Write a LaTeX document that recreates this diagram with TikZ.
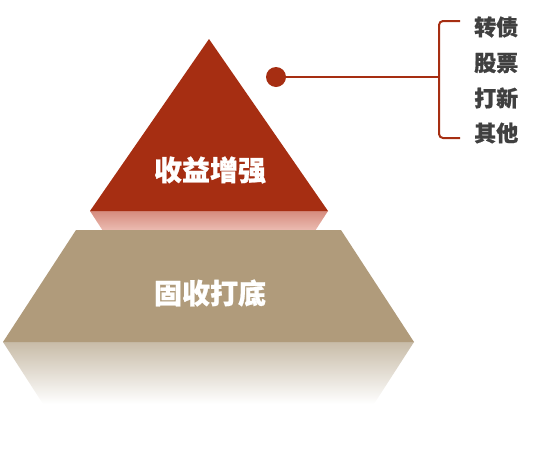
\documentclass[tikz,border=0pt]{standalone}
\usepackage{fontspec}
\newfontfamily\cjk{Noto Sans CJK SC}[BoldFeatures={FakeBold=0.8}]
\definecolor{topred}{RGB}{166,46,18}
\definecolor{basetan}{RGB}{176,155,123}
\definecolor{pinkA}{RGB}{214,140,126}
\definecolor{pinkB}{RGB}{236,190,180}
\definecolor{tanA}{RGB}{200,188,168}
\definecolor{labelgray}{RGB}{64,64,64}
\tikzset{
  bigtext/.style={text=white, font=\cjk\bfseries\fontsize{28}{30}\selectfont, inner sep=0pt},
  sidetext/.style={text=labelgray, font=\cjk\bfseries\fontsize{22}{24}\selectfont, inner sep=0pt, anchor=west},
  leader/.style={draw=topred, line width=2pt},
}
\begin{document}
\begin{tikzpicture}[x=1pt,y=-1pt]
\useasboundingbox (0,0) rectangle (551,456);
% reflection of the top triangle
\shade[top color=pinkA, bottom color=pinkB] (90,211) -- (328,211) -- (315,231) -- (103,231) -- cycle;
% top triangle
\fill[topred] (209,39) -- (328,211) -- (90,211) -- cycle;
% reflection of the base trapezoid
\shade[top color=tanA, bottom color=white] (3,342) -- (414,342) -- (374,404) -- (43,404) -- cycle;
% base trapezoid
\fill[basetan] (76,230) -- (341,230) -- (414,342) -- (3,342) -- cycle;
% labels
\node[bigtext] (gain) at (210,170) {收益增强};
\node[bigtext] (floor) at (210,293) {固收打底};
% dot and leader
\node[circle, fill=topred, minimum size=20pt, inner sep=0pt] (dot) at (276,77) {};
\coordinate (joint) at (439,77);
\coordinate (btop) at (460,21);
\coordinate (bbot) at (460,138);
\draw[leader] (dot.center) -- (joint);
\draw[leader, rounded corners=4pt] (btop) -- (439,21) -- (439,138) -- (bbot);
% side labels
\node[sidetext] (cb) at (474,27) {转债};
\node[sidetext] (st) at (474,63) {股票};
\node[sidetext] (ipo) at (474,98) {打新};
\node[sidetext] (oth) at (474,133) {其他};
\end{tikzpicture}
\end{document}
